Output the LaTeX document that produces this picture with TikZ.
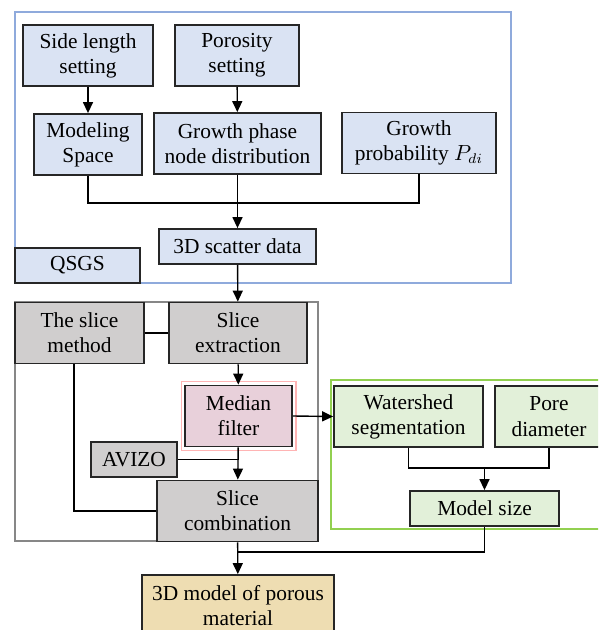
\documentclass[tikz,border=0pt]{standalone}
\usepackage{fontspec}
\setmainfont{Liberation Serif}
\usetikzlibrary{arrows.meta}
\usetikzlibrary{fit}
\definecolor{qsfill}{RGB}{218,227,243}
\definecolor{qsline}{RGB}{143,170,220}
\definecolor{slfill}{RGB}{208,206,206}
\definecolor{slline}{RGB}{135,135,135}
\definecolor{medfill}{RGB}{232,208,218}
\definecolor{medline}{RGB}{255,180,180}
\definecolor{segfill}{RGB}{226,240,217}
\definecolor{segline}{RGB}{146,208,80}
\definecolor{resfill}{RGB}{238,221,178}
\tikzset{
	align=center,
	box/.style={
		draw=black!85,
		line width=0.9pt,
		inner sep=0pt,
		font=\fontsize{10.7}{12.6}\selectfont,
	},
	tall/.style={minimum height=30.5pt},
	short/.style={minimum height=17.5pt},
	qs/.style={box, fill=qsfill},
	sl/.style={box, fill=slfill},
	med/.style={box, fill=medfill},
	seg/.style={box, fill=segfill},
	res/.style={box, fill=resfill},
	frame/.style={line width=0.9pt},
	flow/.style={
		-{Triangle[length=5.5pt,width=5pt]}
	},
}

\begin{document}
\begin{tikzpicture}[x=0.5pt,y=-0.5pt,line width=0.7pt]
		\clip (0,0) rectangle (598,630);
		\fill[white] (0,0) rectangle (598,630);

		% group frames
		\draw[frame, qsline]  (15,12) rectangle (511,283);
		\draw[frame, slline]  (15,302) rectangle (318,541);
		\draw[frame, segline] (331,380) rectangle (610,529);

		% QSGS
		\node[qs, tall, minimum width=65pt]   (side) at (88,55.5) {Side length\\setting};
		\node[qs, tall, minimum width=62pt]   (poro) at (237,55.5) {Porosity\\setting};
		\node[qs, tall, minimum width=54pt]   (space) at (88,144.5) {Modeling\\Space};
		\node[qs, tall, minimum width=83.5pt] (growth) at (237.5,143.5) {Growth phase\\node distribution};
		\node[qs, tall, minimum width=77pt]   (prob) at (419,143) {Growth\\probability $P_{di}$};
		\node[qs, short, minimum width=78.5pt] (scatter) at (237.5,246.5) {3D scatter data};
		\node[qs, short, minimum width=62.5pt] (qsgs) at (77.5,265.5) {QSGS};
		\coordinate (jn) at (237.5,203);

		% slices
		\node[sl, tall, minimum width=64.5pt] (slicem) at (79.5,333) {The slice\\method};
		\node[sl, tall, minimum width=69pt]   (extract) at (238,333) {Slice\\extraction};
		\node[med, tall, minimum width=53.5pt] (median) at (238.5,416) {Median\\filter};
		\node[draw=medline, line width=0.6pt, inner sep=1.5pt, fit=(median)] (medring) {};
		\node[sl, short, minimum width=43pt]  (avizo) at (134,459.5) {AVIZO};
		\node[sl, tall, minimum width=80.5pt] (combine) at (237.5,511) {Slice\\combination};

		% size
		\node[seg, tall, minimum width=74.5pt] (water) at (408.5,416.5) {Watershed\\segmentation};
		\node[seg, tall, minimum width=54pt]   (pore) at (549,416.5) {Pore\\diameter};
		\node[seg, short, minimum width=74.5pt] (msize) at (484.5,508.5) {Model size};
		\coordinate (jn2) at (484.5,468);

		\node[res, tall, minimum width=96pt] (model) at (238,605.5) {3D model of porous\\material};
		\coordinate (jn3) at (238,552);

		\draw[flow] (side) -- (space);
		\draw[flow] (poro) -- (growth);
		\draw (space) |- (jn);
		\draw (prob) |- (jn);
		\draw[flow] (growth) -- (scatter);
		\draw[flow] (scatter) -- (extract);

		\draw (slicem.east) -- (extract.west);
		\draw[flow] (extract) -- (median);
		\draw[flow] (median) -- (combine);
		\draw (avizo.east) -- (avizo.east -| median.south);
		\draw ([xshift=-2.75pt]slicem.south) |- (combine.west);

		\draw[flow] (median.east) -- (water.west);
		\draw (water) |- (jn2);
		\draw (pore) |- (jn2);
		\draw[flow] (jn2) -- (msize);
		\draw (msize) |- (jn3);
		\draw[flow] (combine) -- (model);
	\end{tikzpicture}
\end{document}
